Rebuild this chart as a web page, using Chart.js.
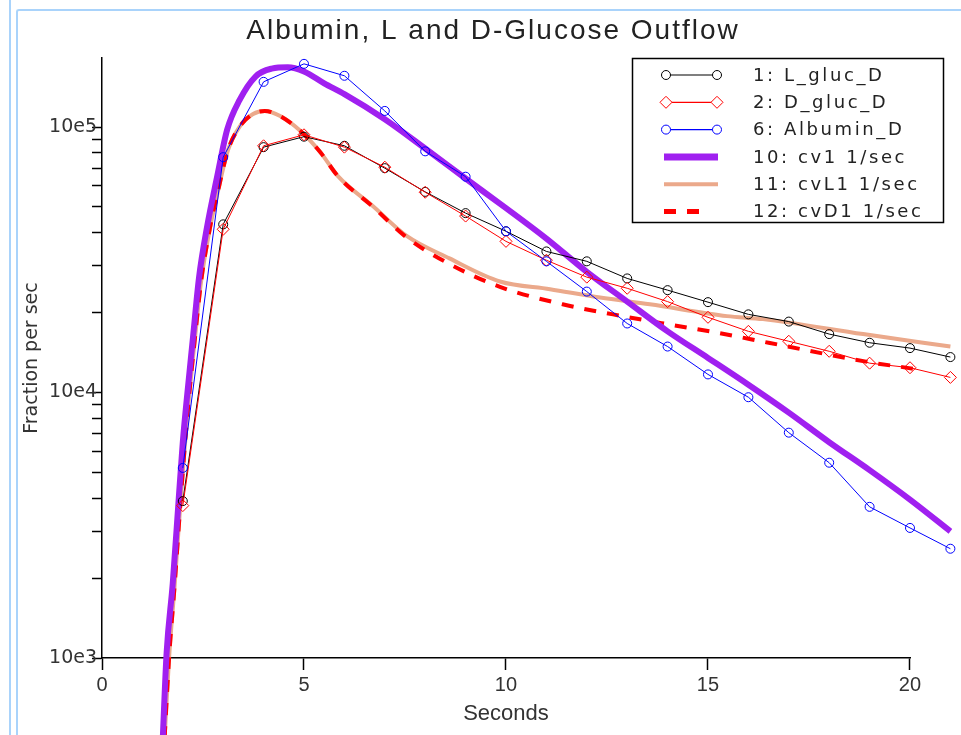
<!DOCTYPE html>
<html>
<head>
<meta charset="utf-8">
<script src="https://cdn.jsdelivr.net/npm/chart.js@4.4.1/dist/chart.umd.min.js"></script>
<style>
  html, body { margin: 0; padding: 0; background: #fff; }
  #wrap { position: relative; width: 961px; height: 735px; overflow: hidden; }
  .edge1 { position: absolute; left: 9px; top: 0; width: 2px; height: 735px; background: #a9d3fb; }
  .edge2 { position: absolute; left: 16px; top: 9px; right: 0; bottom: 0;
           border-left: 2px solid #a9d3fb; border-top: 2px solid #a9d3fb; border-top-left-radius: 3px; }
  canvas { position: absolute; left: 0; top: 0; }
</style>
</head>
<body>
<div id="wrap">
  <div class="edge1"></div>
  <div class="edge2"></div>
  <canvas id="outflowChart" width="961" height="735"></canvas>
</div>
<script>
// sample times (s) of the measured curves
const markerTimes = [2, 3, 4, 5, 6, 7, 8, 9, 10, 11, 12, 13, 14, 15, 16, 17, 18, 19, 20, 21];
const lGlucD = [3900, 43000, 84000, 92000, 85000, 70000, 57000, 47400, 40500, 34000, 31200, 26900, 24300, 21900, 19700, 18500, 16600, 15400, 14700, 13600];
const dGlucD = [3750, 41200, 85000, 93500, 84000, 70600, 56800, 46200, 37100, 31500, 27200, 24700, 22000, 19200, 17000, 15600, 14300, 12900, 12400, 11400];
const albuminD = [5200, 77000, 148000, 173000, 156000, 115000, 81000, 65000, 40500, 31200, 24000, 18200, 14900, 11700, 9600, 7060, 5440, 3710, 3090, 2580];

// model curves
const cv1Times = [1.5, 1.6, 1.75, 1.9, 2.0, 2.1, 2.25, 2.4, 2.6, 2.85, 3.1, 3.4, 3.8, 4.2, 4.6, 5.0, 5.5, 6, 7, 8, 9, 10, 11, 12, 13, 14, 15, 16, 17, 18, 19, 20, 21];
const cv1Values = [480, 1050, 1900, 4000, 6500, 9500, 16000, 27000, 42000, 65000, 98000, 126000, 155000, 166000, 168000, 162000, 146000, 133000, 107000, 83000, 64000, 49500, 38000, 28500, 22000, 17000, 13500, 10700, 8400, 6500, 5100, 3950, 3000];

const cvL1Times = [1.55, 1.66, 1.8, 1.95, 2.05, 2.15, 2.3, 2.45, 2.65, 2.9, 3.12, 3.42, 3.74, 4.03, 4.41, 4.9, 5.4, 5.84, 6.71, 7.55, 8.6, 9.85, 11.09, 12.33, 13.56, 15.47, 16.36, 18.84, 21];
const cvL1Values = [500, 1000, 1900, 4000, 6300, 9500, 16000, 26000, 40000, 60000, 82000, 101000, 112000, 115000, 110000, 97000, 80500, 65300, 50300, 38800, 32000, 26200, 24500, 22800, 21500, 19400, 18900, 16600, 14900];

const cvD1Times = [1.55, 1.66, 1.8, 1.95, 2.05, 2.15, 2.3, 2.45, 2.65, 2.9, 3.12, 3.42, 3.74, 4.03, 4.41, 4.9, 5.4, 5.84, 6.71, 7.55, 8.6, 9.85, 11.4, 12.65, 13.99, 15.22, 16.5, 19.0, 20.2, 21];
const cvD1Values = [500, 1000, 1900, 4000, 6300, 9500, 16000, 26000, 40000, 60000, 82000, 101000, 112000, 115000, 110000, 97000, 80500, 65300, 50000, 38300, 30500, 25000, 21500, 19700, 18100, 16800, 15400, 13000, 12200, 11500];

// axis ticks
const xTickValues = [0, 5, 10, 15, 20];
const yTickValues = [1000, 2000, 3000, 4000, 5000, 6000, 7000, 8000, 9000,
                     10000, 20000, 30000, 40000, 50000, 60000, 70000, 80000, 90000, 100000];
const yMajorValues = [1000, 10000, 100000];
const yMajorLabels = ['10e3', '10e4', '10e5'];

const chartTitle = 'Albumin, L and D-Glucose Outflow';

function toPoints(xs, ys) {
    return xs.map((x, i) => ({ x: x, y: ys[i] }));
}

// the plot program shows the t=21 samples past the axis end; Chart.js skips
// points outside the chart area, so draw those point elements here
const outsidePoints = {
    id: 'outsidePoints',
    afterDatasetsDraw(chart) {
        let area = chart.chartArea;
        chart.getSortedVisibleDatasetMetas().slice().reverse().forEach(function (meta) {
            meta.data.forEach(function (p) {
                if (p.x > area.right + 1) p.draw(chart.ctx);
            });
        });
    }
};

// title and legend drawn like the original plot program (framed legend box)
const boxLegend = {
    id: 'boxLegend',
    afterDraw(chart) {
        let ctx = chart.ctx;
        ctx.save();
        ctx.fillStyle = '#222';
        ctx.font = '28px "Liberation Sans"';
        ctx.letterSpacing = '2px';
        ctx.textAlign = 'center';
        ctx.textBaseline = 'middle';
        ctx.fillText(chartTitle, 493, 31);
        ctx.restore();

        ctx.save();
        ctx.strokeStyle = '#000';
        ctx.lineWidth = 1.5;
        ctx.strokeRect(632.5, 58.5, 311, 164);

        let rows = [0, 1, 2, 3, 4, 5];
        rows.forEach(function (i) {
            let ds = chart.data.datasets[i];
            let y = 75 + i * 27.3;
            ctx.save();
            ctx.strokeStyle = ds.borderColor;
            ctx.lineWidth = ds.legendLineWidth;
            ctx.setLineDash(ds.borderDash || []);
            ctx.beginPath();
            ctx.moveTo(664, y);
            ctx.lineTo(ds.borderDash ? 706 : 718, y);
            ctx.stroke();
            ctx.setLineDash([]);
            if (ds.pointRadius > 0) {
                ctx.lineWidth = 1;
                [666, 717].forEach(function (px) {
                    ctx.beginPath();
                    if (ds.pointStyle === 'rectRot') {
                        let r = ds.pointRadius;
                        ctx.moveTo(px - r, y);
                        ctx.lineTo(px, y - r);
                        ctx.lineTo(px + r, y);
                        ctx.lineTo(px, y + r);
                        ctx.closePath();
                    } else {
                        ctx.arc(px, y, ds.pointRadius, 0, Math.PI * 2);
                    }
                    ctx.fillStyle = '#fff';
                    ctx.fill();
                    ctx.stroke();
                });
            }
            ctx.restore();
            ctx.fillStyle = '#222';
            ctx.font = '18px "DejaVu Sans"';
            ctx.letterSpacing = '2.6px';
            ctx.textBaseline = 'middle';
            ctx.fillText(ds.label, 753, y + 1);
        });
        ctx.restore();
    }
};

let ctx = document.getElementById('outflowChart').getContext('2d');

let outflowChart = new Chart(ctx, {
    type: 'line',
    data: {
        datasets: [
            {
                label: '1: L_gluc_D',
                data: toPoints(markerTimes, lGlucD),
                borderColor: '#000000',
                borderWidth: 1,
                legendLineWidth: 1.2,
                pointStyle: 'circle',
                pointRadius: 4.5,
                pointBorderWidth: 1,
                pointBackgroundColor: 'rgba(0,0,0,0)',
                order: 3
            },
            {
                label: '2: D_gluc_D',
                data: toPoints(markerTimes, dGlucD),
                borderColor: '#ff0000',
                borderWidth: 1,
                legendLineWidth: 1.2,
                pointStyle: 'rectRot',
                pointRadius: 6,
                pointBorderWidth: 1,
                pointBackgroundColor: 'rgba(0,0,0,0)',
                order: 2
            },
            {
                label: '6: Albumin_D',
                data: toPoints(markerTimes, albuminD),
                borderColor: '#0000ff',
                borderWidth: 1,
                legendLineWidth: 1.2,
                pointStyle: 'circle',
                pointRadius: 4.5,
                pointBorderWidth: 1,
                pointBackgroundColor: 'rgba(0,0,0,0)',
                order: 1
            },
            {
                label: '10: cv1 1/sec',
                data: toPoints(cv1Times, cv1Values),
                borderColor: '#a020f0',
                borderWidth: 6,
                legendLineWidth: 7,
                pointRadius: 0,
                cubicInterpolationMode: 'monotone',
                order: 4
            },
            {
                label: '11: cvL1 1/sec',
                data: toPoints(cvL1Times, cvL1Values),
                borderColor: '#eba98b',
                borderWidth: 4,
                legendLineWidth: 4,
                pointRadius: 0,
                cubicInterpolationMode: 'monotone',
                order: 6
            },
            {
                label: '12: cvD1 1/sec',
                data: toPoints(cvD1Times, cvD1Values),
                borderColor: '#ff0000',
                borderWidth: 4,
                legendLineWidth: 5,
                borderDash: [12, 11],
                pointRadius: 0,
                cubicInterpolationMode: 'monotone',
                order: 5
            }
        ]
    },
    options: {
        responsive: false,
        animation: false,
        layout: { padding: { left: 12, right: 51, top: 58, bottom: 0 } },
        datasets: { line: { clip: false } },
        plugins: {
            legend: { display: false },
            tooltip: { enabled: false },
            title: { display: false }
        },
        scales: {
            x: {
                type: 'linear',
                min: 0,
                // a hair past 20 so the t=21 samples (drawn past the axis end) are kept
                max: 20.0001,
                afterBuildTicks: function (scale) {
                    scale.ticks = xTickValues.map(v => ({ value: v }));
                },
                afterFit: function (scale) { scale.height = 77; },
                border: { color: '#000', width: 1.5 },
                grid: { drawOnChartArea: false, color: '#000', tickLength: 12, tickWidth: 1.5 },
                ticks: {
                    color: '#333',
                    padding: 3,
                    font: { family: '"Liberation Sans"', size: 20 },
                    callback: function (v) { return String(v); }
                },
                title: {
                    display: true,
                    text: 'Seconds',
                    color: '#333',
                    font: { family: '"Liberation Sans"', size: 22 },
                    padding: { top: 0, bottom: 8 }
                }
            },
            y: {
                type: 'logarithmic',
                min: 1000,
                max: 182000,
                afterBuildTicks: function (scale) {
                    scale.ticks = yTickValues.map(v => ({ value: v }));
                },
                afterFit: function (scale) { scale.width = 90; },
                border: { color: '#000', width: 1.5 },
                grid: { drawOnChartArea: false, color: '#000', tickLength: 10, tickWidth: 1.5 },
                ticks: {
                    color: '#333',
                    padding: -5,
                    autoSkip: false,
                    font: { family: '"DejaVu Sans"', size: 19 },
                    callback: function (v) {
                        let k = yMajorValues.indexOf(v);
                        return k >= 0 ? yMajorLabels[k] : '';
                    }
                },
                title: {
                    display: true,
                    text: 'Fraction per sec',
                    color: '#333',
                    font: { family: '"DejaVu Sans"', size: 19 },
                    padding: { top: 9, bottom: 0 }
                }
            }
        }
    },
    plugins: [outsidePoints, boxLegend]
});
</script>
</body>
</html>
